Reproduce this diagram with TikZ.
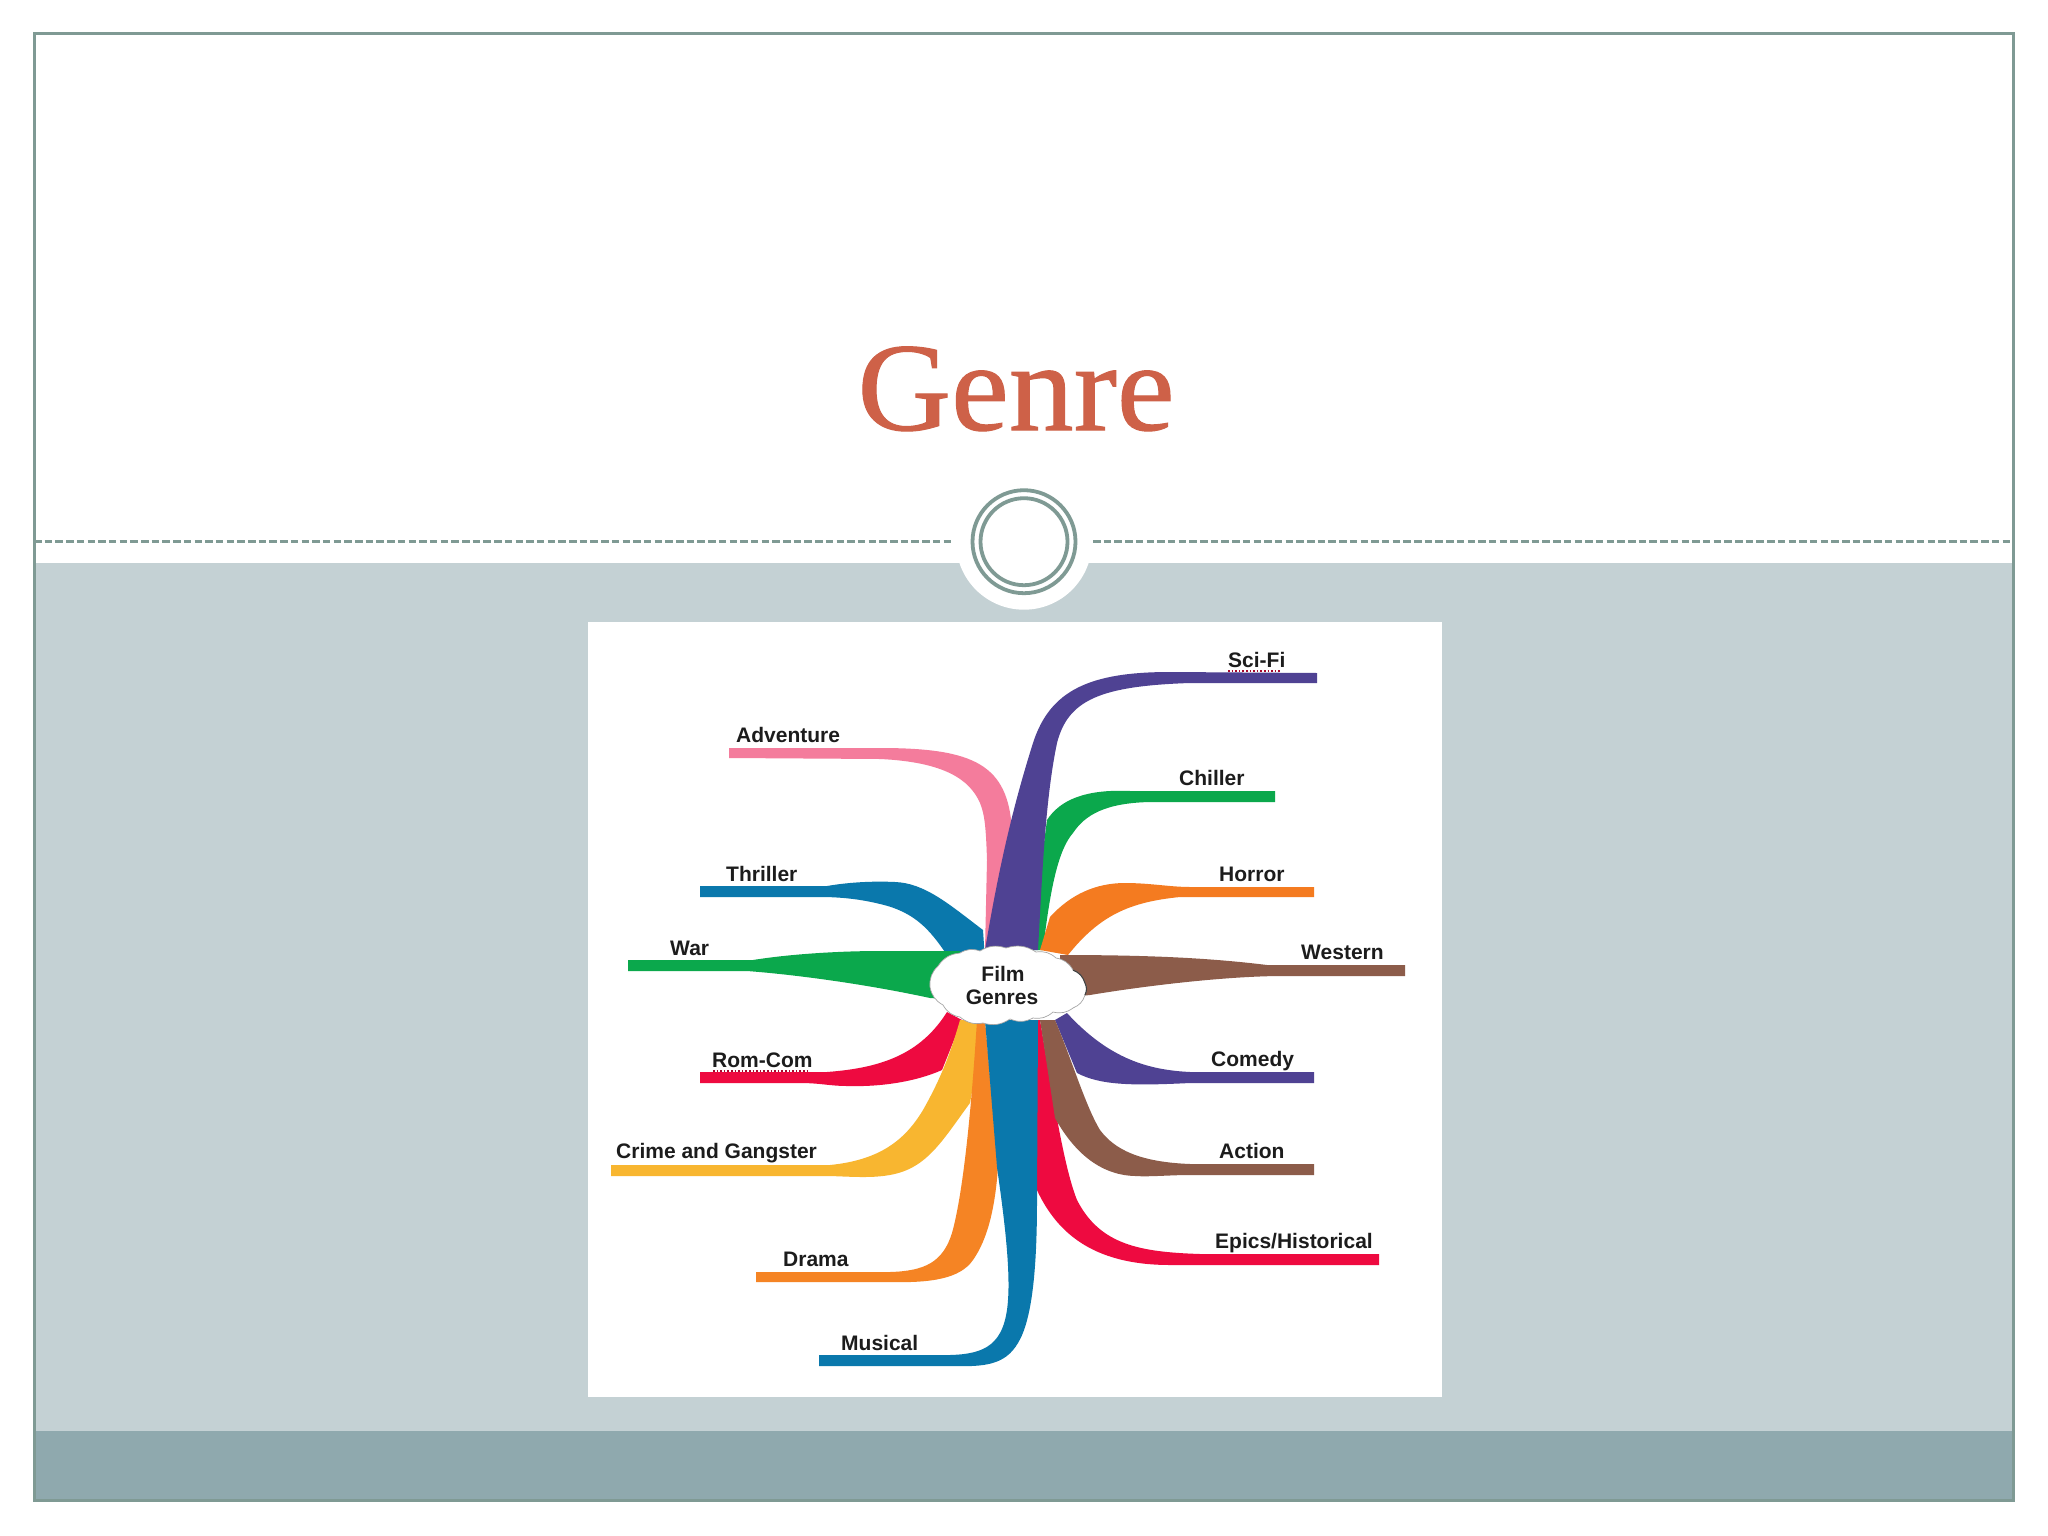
\documentclass[tikz,border=0pt]{standalone}
\usepackage{fontspec}
\setmainfont{Liberation Serif}
\newfontfamily\lblfont{Liberation Sans}
\newfontfamily\titlefont[FakeBold=0.8,FakeStretch=1.03]{Liberation Serif}
\definecolor{bandlight}{HTML}{C4D1D4}
\definecolor{banddark}{HTML}{8FA9AE}
\definecolor{framec}{HTML}{7F9A94}
\definecolor{titlec}{HTML}{CE6148}
\definecolor{cpink}{HTML}{F47C9C}
\definecolor{cpurple}{HTML}{4F4293}
\definecolor{cblue}{HTML}{0A78AC}
\definecolor{cgreen}{HTML}{0BA84C}
\definecolor{corange}{HTML}{F47B20}
\definecolor{cbrown}{HTML}{8C5C4A}
\definecolor{cred}{HTML}{EE0A40}
\definecolor{cyellow}{HTML}{F8B630}
\definecolor{cdark}{HTML}{F58424}
\definecolor{ink}{HTML}{1C1C1C}
\tikzset{
  genre/.style={font=\lblfont\bfseries\fontsize{21}{24}\selectfont,text=ink,anchor=base west,inner sep=0pt},
  hubtext/.style={font=\lblfont\bfseries\fontsize{21}{24}\selectfont,text=ink,anchor=base,inner sep=0pt},
  framepen/.style={draw=framec,line width=3pt},
  dashpen/.style={draw=framec,line width=2.6pt,dash pattern=on 7.5pt off 3.2pt},
  ringpen/.style={draw=framec,line width=3.8pt},
  squiggle/.style={draw=cred!70!black,line width=1.6pt,dash pattern=on 1.6pt off 2pt}
}
\begin{document}
\begin{tikzpicture}[x=1pt,y=-1pt]
\useasboundingbox (0,0) rectangle (2048,1536);
\fill[white] (0,0) rectangle (2048,1536);
% bands
\fill[bandlight] (34,563) rectangle (2013,1431);
\fill[banddark] (34,1431) rectangle (2013,1500);
% medallion
\fill[white] (1024,541.7) circle (68);
\draw[dashpen] (34,541.7) -- (953,541.7);
\draw[dashpen] (1093,541.7) -- (2013,541.7);
\draw[ringpen] (1024,541.7) circle (51.5);
\draw[ringpen] (1024,541.7) circle (43.5);
% frame
\draw[framepen] (34,34) rectangle (2013,1500);
% title
\node[font=\titlefont\fontsize{126}{140}\selectfont,text=titlec,anchor=base,inner sep=0pt] (title) at (1016,430) {Genre};
% picture panel
\fill[white] (588,622) rectangle (1442,1397);
% ribbons, back to front
\fill[cpink] (729,748) -- (880,748) .. controls (975,748) and (1008,765) .. (1012,830) -- (1012,950) -- (985,950) -- (987,860) .. controls (986,830) and (985,815) .. (980,803) .. controls (970,780) and (945,762) .. (880,759) -- (729,758) -- cycle;
\fill[cblue] (700,886) -- (827,886) .. controls (850,882) and (875,881) .. (895,882) .. controls (925,883) and (950,905) .. (983,930) -- (985,960) -- (947,955) .. controls (930,930) and (915,912) .. (880,904) .. controls (860,899) and (840,897) .. (820,897) -- (700,897) -- cycle;
\fill[cgreen] (628,960) -- (753,960) .. controls (790,954) and (840,951) .. (880,951) -- (960,951) -- (960,1000) -- (930,998) .. controls (870,985) and (800,975) .. (747,971) -- (628,971) -- cycle;
\fill[cgreen] (1275,791) -- (1130,791) .. controls (1085,789) and (1060,800) .. (1047,820) -- (1030,950) -- (1043,950) .. controls (1050,890) and (1058,850) .. (1073,833) .. controls (1085,815) and (1105,803) .. (1150,802) -- (1275,802) -- cycle;
\fill[cpurple] (1317,673) -- (1170,672) .. controls (1090,672) and (1050,690) .. (1033,743) .. controls (1015,800) and (1000,860) .. (985,950) -- (1038,950) .. controls (1042,880) and (1045,800) .. (1057,743) .. controls (1068,700) and (1100,686) .. (1190,683) -- (1317,683) -- cycle;
\fill[corange] (1314,887) -- (1190,887) .. controls (1170,887) and (1150,883) .. (1125,883) .. controls (1095,883) and (1070,895) .. (1050,917) -- (1040,950) -- (1068,955) .. controls (1100,915) and (1130,902) .. (1180,897) -- (1314,897) -- cycle;
\fill[cbrown] (1405,965) -- (1267,965) .. controls (1210,958) and (1150,955) .. (1060,955) -- (1060,998) -- (1090,995) .. controls (1150,985) and (1230,976) .. (1283,976) -- (1405,976) -- cycle;
\fill[cred] (700,1072) -- (827,1072) .. controls (880,1068) and (920,1055) .. (947,1012) -- (962,1020) -- (942,1070) .. controls (915,1082) and (880,1087) .. (847,1086) .. controls (830,1086) and (820,1083) .. (800,1083) -- (700,1083) -- cycle;
\fill[cyellow] (611,1165) -- (830,1165) .. controls (880,1160) and (905,1140) .. (923,1110) .. controls (940,1080) and (950,1055) .. (960,1020) -- (985,1020) -- (970,1103) .. controls (950,1130) and (935,1155) .. (913,1167) .. controls (890,1180) and (860,1177) .. (830,1176) -- (611,1176) -- cycle;
\fill[cdark] (756,1272) -- (890,1272) .. controls (925,1271) and (943,1262) .. (952,1233) .. controls (964,1190) and (972,1100) .. (977,1020) -- (985,1020) -- (998,1167) .. controls (995,1210) and (987,1240) .. (973,1260) .. controls (960,1279) and (930,1283) .. (890,1282) -- (756,1282) -- cycle;
\fill[cpurple] (1314,1072) -- (1190,1072) .. controls (1150,1070) and (1110,1060) .. (1067,1013) -- (1055,1020) -- (1077,1073) .. controls (1100,1085) and (1130,1086) .. (1190,1083) -- (1314,1083) -- cycle;
\fill[cred] (1379,1254) -- (1200,1254) .. controls (1140,1252) and (1100,1245) .. (1077,1200) .. controls (1065,1170) and (1055,1110) .. (1040,1020) -- (1036,1020) -- (1036,1188) .. controls (1055,1230) and (1090,1265) .. (1170,1265) -- (1379,1265) -- cycle;
\fill[cbrown] (1314,1164) -- (1190,1164) .. controls (1140,1162) and (1115,1150) .. (1100,1130) .. controls (1085,1105) and (1072,1060) .. (1055,1020) -- (1040,1020) -- (1055,1118) .. controls (1070,1145) and (1095,1175) .. (1135,1176) .. controls (1150,1177) and (1170,1175) .. (1190,1175) -- (1314,1175) -- cycle;
\fill[cblue] (819,1355) -- (950,1355) .. controls (985,1354) and (1005,1345) .. (1008,1300) .. controls (1011,1260) and (1000,1190) .. (997,1167) -- (985,1020) -- (1038,1020) -- (1037,1200) .. controls (1037,1270) and (1032,1320) .. (1018,1343) .. controls (1005,1365) and (985,1367) .. (950,1366) -- (819,1366) -- cycle;
% cloud
\draw[fill=white,draw=black!35,line width=.7pt]
  (930,987) to[bend left=25] (938,966) to[bend left=25] (960,953) to[bend left=25] (980,951)
  to[bend left=25] (1006,948) to[bend left=25] (1036,952) to[bend left=25] (1056,958)
  to[bend left=25] (1073,970) to[bend left=25] (1085,983) to[bend left=25] (1085,995)
  to[bend left=25] (1073,1008) to[bend left=25] (1053,1012) to[bend left=25] (1033,1018)
  to[bend left=25] (1010,1019) to[bend left=25] (983,1023) to[bend left=25] (960,1017)
  to[bend left=25] (943,1005) to[bend left=25] (930,987) -- cycle;
\draw[black!75,line width=1.1pt] (1073,970) to[bend left=25] (1085,983) to[bend left=25] (1085,995);
\node[hubtext] (film) at (1003,981) {Film};
\node[hubtext] (genres) at (1002,1004) {Genres};
% labels
\node[genre] (scifi) at (1228,667) {Sci-Fi};
\node[genre] (adventure) at (736,742) {Adventure};
\node[genre] (chiller) at (1179,785) {Chiller};
\node[genre] (thriller) at (726,881) {Thriller};
\node[genre] (horror) at (1219,881) {Horror};
\node[genre] (war) at (670,955) {War};
\node[genre] (western) at (1301,959) {Western};
\node[genre] (romcom) at (712,1067) {Rom-Com};
\node[genre] (comedy) at (1211,1066) {Comedy};
\node[genre] (crime) at (616,1158) {Crime and Gangster};
\node[genre] (action) at (1219,1158) {Action};
\node[genre] (epics) at (1215,1248) {Epics/Historical};
\node[genre] (drama) at (783,1266) {Drama};
\node[genre] (musical) at (841,1350) {Musical};
\draw[squiggle] (1228,671) -- (1280,671);
\draw[squiggle] (713,1071) -- (808,1071);
\end{tikzpicture}
\end{document}
